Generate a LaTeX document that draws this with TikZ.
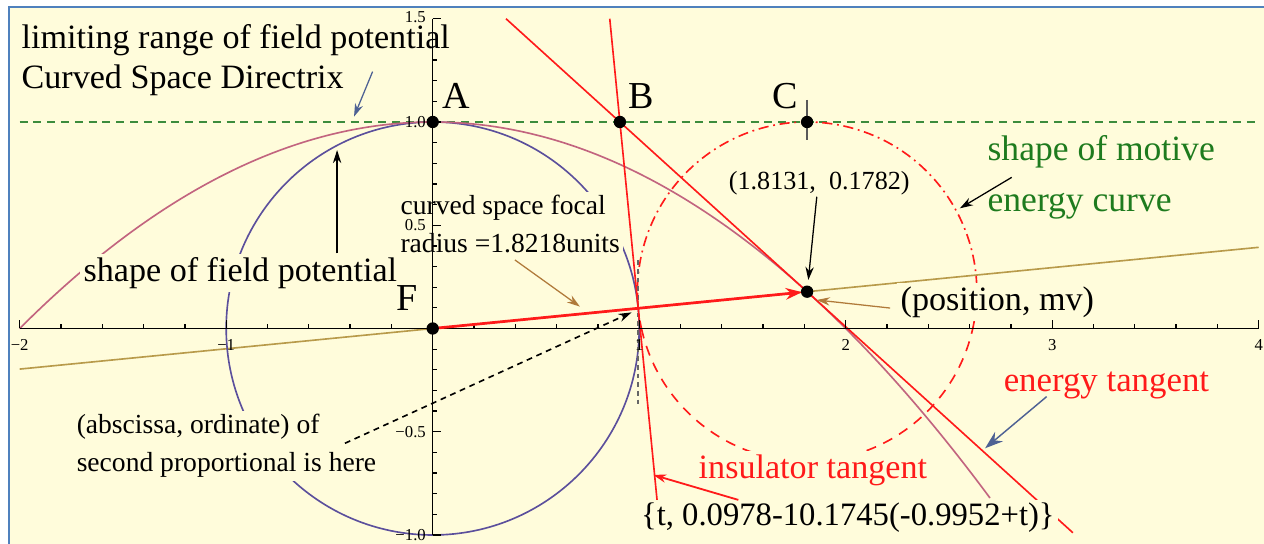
\documentclass[tikz,border=0pt]{standalone}
\usepackage{fontspec}
\setmainfont{Liberation Serif}
\usetikzlibrary{arrows.meta, calc}
\definecolor{paperBg}{HTML}{FFFCDB}
\definecolor{frameBlue}{HTML}{4F81BD}
\definecolor{dirGreen}{HTML}{3C8C3C}
\definecolor{textGreen}{HTML}{1E7B1E}
\definecolor{lineRed}{HTML}{FF1A1A}
\definecolor{circleBlue}{HTML}{5B4F9C}
\definecolor{fieldMauve}{HTML}{C2647F}
\definecolor{mvGold}{HTML}{B89A4A}
\definecolor{noteBrown}{HTML}{B07A3A}
\definecolor{noteSlate}{HTML}{4E6194}

\tikzset{
  lbl/.style={fill=paperBg, inner sep=0.9pt, anchor=west, font=\fontsize{9.4}{11}\selectfont},
  smalllbl/.style={lbl, align=left, font=\fontsize{7.6}{10.5}\selectfont},
  letter/.style={inner sep=0pt, font=\fontsize{10.5}{12}\selectfont},
  ticklbl/.style={inner sep=0pt, font=\fontsize{4.6}{5}\selectfont},
  dot/.style={circle, fill=black, inner sep=0pt, minimum size=3.4pt},
  pointer/.style={line width=0.35pt, -{Stealth[length=3.6pt, width=2.3pt]}},
}

\begin{document}
\begin{tikzpicture}[x=2cm, y=2cm]
    \useasboundingbox (-2.0954,-1.0436) rectangle (4.0256,1.5908);
    \fill[white] (-2.0954,-1.0436) rectangle (4.0256,1.5908);
    \fill[paperBg] (-2.052,-1.0436) rectangle (4.0256,1.557);
    \draw[frameBlue, line width=0.6pt] (-2.052,-1.0436) -- (-2.052,1.557) -- (4.0256,1.557);

    % the marked points
    \coordinate (F) at (0,0);
    \coordinate (A) at (0,1);
    \coordinate (B) at (0.9065,1);
    \coordinate (C) at (1.8131,1);
    \coordinate (Q) at (1.8131,0.1782);

    % directrix and the (position, mv) line
    \draw[dirGreen, dash pattern=on 2.2pt off 1.6pt, line width=0.35pt] (-2,1) -- (4,1);
    \draw[mvGold, line width=0.45pt] (-2,-0.1966) -- (4,0.3931);

    % curves
    \draw[circleBlue, line width=0.45pt] (F) circle[radius=1];
    \draw[fieldMauve, line width=0.45pt, domain=-2:2.7, samples=90, smooth] plot (\x, {1-\x*\x/4});
    \draw[lineRed, line width=0.45pt, dash pattern=on 2.8pt off 1.3pt on 0.5pt off 1.3pt]
        ($(Q)+(-12.52:0.8218)$) arc[start angle=-12.52, end angle=192.52, radius=0.8218];
    \draw[lineRed, line width=0.45pt, dash pattern=on 2.8pt off 2.2pt]
        ($(Q)+(192.52:0.8218)$) arc[start angle=192.52, end angle=347.48, radius=0.8218];

    \draw[black!65, line width=0.45pt] (1.8131,1.107) -- (1.8131,0.913);
    \draw[black!60, line width=0.6pt, dash pattern=on 1.3pt off 1.1pt] (0.995,0.33) -- (0.995,-0.38);

    % tangents
    \draw[lineRed, line width=0.45pt] (0.8574,1.5) -- (1.0864,-0.83);
    \draw[lineRed, line width=0.45pt] (0.355,1.5) -- (3.10,-0.989);

    % labels (their fill hides the curves behind them)
    \node[lbl] (limitLbl) at (-2.01,1.397) {limiting range of field potential};
    \node[lbl] (dirLbl) at (-2.01,1.203) {Curved Space Directrix};
    \node[lbl] (fieldLbl) at (-1.71,0.269) {shape of field potential};
    \node[smalllbl] (focalLbl) at (-0.175,0.506) {curved space focal\\radius =1.8218units};
    \node[smalllbl, font=\fontsize{7.2}{9}\selectfont] (qLbl) at (1.415,0.704) {(1.8131,\ \ 0.1782)};
    \node[lbl, text=textGreen, align=left, font=\fontsize{9.8}{14}\selectfont] (motiveLbl) at (2.668,0.731) {shape of motive\\energy curve};
    \node[lbl] (posLbl) at (2.247,0.128) {(position, mv)};
    \node[lbl, text=lineRed, font=\fontsize{9.6}{11}\selectfont] (energyLbl) at (2.746,-0.274) {energy tangent};
    \node[lbl, text=lineRed] (insulLbl) at (1.269,-0.685) {insulator tangent};
    \node[lbl, font=\fontsize{9}{11}\selectfont] (formLbl) at (0.99,-0.918) {\{t, 0.0978-10.1745(-0.9952+t)\}};
    \node[smalllbl] (abscLbl) at (-1.743,-0.569) {(abscissa, ordinate) of\\second proportional is here};

    \node[letter] (labA) at (0.116,1.126) {A};
    \node[letter] (labB) at (1.012,1.126) {B};
    \node[letter] (labC) at (1.706,1.126) {C};
    \node[letter] (labF) at (-0.126,0.146) {F};

    % axes
    \draw[line width=0.4pt] (-2,0) -- (4,0);
    \draw[line width=0.4pt] (0,-1) -- (0,1.5);
    \foreach \i in {-10,...,20} \draw[line width=0.35pt] (\i/5,0) -- (\i/5,0.022);
    \foreach \i in {-2,...,4} \draw[line width=0.35pt] (\i,0) -- (\i,0.04);
    \foreach \j in {-10,...,15} \draw[line width=0.35pt] (0,\j/10) -- (0.022,\j/10);
    \foreach \j in {-2,...,3} \draw[line width=0.35pt] (0,\j/2) -- (0.04,\j/2);
    \foreach \v/\t [count=\k] in {-2/−2, -1/−1, 1/1, 2/2, 3/3, 4/4}
        \node[ticklbl] (xt\k) at (\v,-0.078) {\t};
    \foreach \v/\t [count=\k] in {-1/−1.0, -0.5/−0.5, 0.5/0.5, 1/1.0, 1.508/1.5}
        \node[ticklbl, anchor=east] (yt\k) at (-0.03,\v) {\t};

    % pointers
    \coordinate (dirTip) at (-0.381,1.026);
    \coordinate (fieldTip) at (-0.463,0.864);
    \coordinate (qTip) at (1.819,0.235);
    \coordinate (motiveTip) at (2.553,0.582);
    \coordinate (posTip) at (1.860,0.138);
    \coordinate (focalTip) at (0.713,0.106);
    \coordinate (abscStart) at (-0.425,-0.556);
    \coordinate (abscTip) at (0.963,0.078);
    \coordinate (energyTip) at (2.675,-0.580);
    \coordinate (insulTip) at (1.068,-0.709);

    \draw[pointer, noteSlate] (-0.291,1.244) -- (dirTip);
    \draw[pointer] (fieldLbl.north -| fieldTip) -- (fieldTip);
    \draw[pointer] (1.860,0.638) -- (qTip);
    \draw[pointer] (2.804,0.732) -- (motiveTip);
    \draw[pointer, noteBrown] (2.215,0.099) -- (posTip);
    \draw[pointer, noteBrown] (0.398,0.332) -- (focalTip);
    \draw[pointer, dash pattern=on 1.6pt off 1.3pt, line width=0.45pt] (abscStart) -- (abscTip);
    \draw[noteSlate, line width=0.4pt, -{Stealth[length=5pt, width=3.4pt]}] (2.973,-0.330) -- (energyTip);
    \draw[pointer, lineRed, line width=0.5pt] (1.480,-0.830) -- (insulTip);

    % red focal radius
    \draw[lineRed, line width=0.75pt, -{Stealth[length=4.5pt, width=3.2pt]}, shorten >=1.4pt] (F) -- (Q);

    \node[dot] (dotA) at (A) {};
    \node[dot] (dotB) at (B) {};
    \node[dot] (dotC) at (C) {};
    \node[dot] (dotF) at (F) {};
    \node[dot] (dotQ) at (Q) {};
\end{tikzpicture}
\end{document}
